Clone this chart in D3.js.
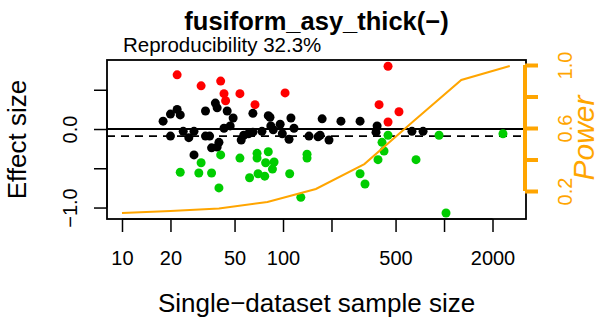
<!DOCTYPE html>
<html>
<head>
<meta charset="utf-8">
<script src="https://cdn.jsdelivr.net/npm/d3@7"></script>
<style>
  html, body { margin: 0; padding: 0; background: #fff; }
  svg { display: block; font-family: "Liberation Sans", Arial, sans-serif; }
</style>
</head>
<body>
<svg id="chart" width="600" height="319"></svg>
<script>
// ---- data ----
const titleText = "fusiform_asy_thick(\u2212)";
const subtitleText = "Reproducibility 32.3%";
const xLabel = "Single\u2212dataset sample size";
const yLabel = "Effect size";
const powerLabel = "Power";

const xTicks = [10, 20, 50, 100, 200, 500, 1000, 2000];
const xTickLabels = ["10", "20", "50", "100", "", "500", "", "2000"];
const yTicks = [-1.0, -0.5, 0.0, 0.5];
const yTickLabels = ["\u22121.0", "", "0.0", ""];
const pTicks = [0.2, 0.4, 0.6, 0.8, 1.0];
const pTickLabels = ["0.2", "", "0.6", "", "1.0"];

const meanEffect = -0.09;

// red: significant positive
const redN   = [22, 31, 41, 43, 44, 54, 67, 103, 449, 395, 525, 449];
const redES  = [0.69, 0.55, 0.61, 0.45, 0.36, 0.45, 0.31, 0.46, 0.80, 0.31, 0.22, 0.09];

// black: non-significant
const blackN  = [18, 20, 22, 23, 20, 24, 26, 28, 28, 33, 33, 35, 38, 39, 45, 49, 47, 43, 40, 36, 39,
                 55, 57, 61, 65, 65, 74, 81, 83, 84, 87, 96, 99, 109, 112, 117, 145, 165, 170, 175,
                 193, 229, 301, 384, 378, 632, 741];
const blackES = [0.10, 0.19, 0.25, 0.18, -0.09, -0.03, -0.11, -0.03, -0.33, 0.23, -0.09, -0.09, 0.33, 0.27, 0.23, 0.14, 0.04, 0.01, -0.17, -0.24, -0.23,
                 -0.14, -0.08, -0.06, -0.04, 0.20, -0.03, 0.17, 0.15, 0.04, -0.01, 0.06, -0.06, -0.13, 0.14, 0.01, -0.09, -0.10, -0.08, 0.13,
                 -0.14, 0.10, 0.10, 0.04, -0.04, -0.03, -0.03];

// green: significant negative
const greenN  = [23, 30, 36, 31, 41, 40, 54, 62, 69, 69, 70, 77, 81, 78, 88, 86, 110, 129, 141, 141,
                 449, 412, 424, 389, 670, 301, 323, 931, 2323, 1029];
const greenES = [-0.55, -0.56, -0.56, -0.43, -0.33, -0.75, -0.37, -0.62, -0.31, -0.37, -0.57, -0.60, -0.29, -0.43, -0.42, -0.51, -0.57, -0.87, -0.32, -0.37,
                 -0.08, -0.17, -0.28, -0.39, -0.39, -0.57, -0.70, -0.08, -0.06, -1.07];

// power curve
const powerN   = [10, 20, 40, 80, 160, 320, 640, 1280, 2560];
const powerVal = [0.060, 0.073, 0.089, 0.13, 0.213, 0.371, 0.64, 0.905, 0.994];

// ---- layout ----
const L = 107, R = 526, T = 60, B = 219;
const svg = d3.select("#chart");

const x = d3.scaleLog().domain([8.07, 3229]).range([L, R]);
const y = d3.scaleLinear().domain([-1.146, 0.879]).range([B, T]);
const p = d3.scaleLinear().domain([0.2, 1.0]).range([191, 65]);

svg.append("clipPath").attr("id", "clip")
  .append("rect").attr("x", L).attr("y", T).attr("width", R - L).attr("height", B - T);

const plot = svg.append("g").attr("clip-path", "url(#clip)");

// reference lines
plot.append("line").attr("x1", L).attr("x2", R).attr("y1", y(0)).attr("y2", y(0))
  .attr("stroke", "#000").attr("stroke-width", 1.8);
plot.append("line").attr("x1", L).attr("x2", R).attr("y1", y(meanEffect)).attr("y2", y(meanEffect))
  .attr("stroke", "#000").attr("stroke-width", 1.8).attr("stroke-dasharray", "8,6");

function drawPoints(ns, es, color) {
  plot.append("g").selectAll("circle").data(ns.map((n, i) => [n, es[i]])).join("circle")
    .attr("cx", d => x(d[0])).attr("cy", d => y(d[1])).attr("r", 4.5)
    .attr("fill", color);
}
drawPoints(blackN, blackES, "#000000");
drawPoints(redN, redES, "#FF0000");
drawPoints(greenN, greenES, "#00CD00");

// power line
const line = d3.line().x(d => x(d[0])).y(d => p(d[1]));
plot.append("path").datum(powerN.map((n, i) => [n, powerVal[i]]))
  .attr("d", line).attr("fill", "none").attr("stroke", "#FFA500").attr("stroke-width", 2);

// box
svg.append("rect").attr("x", L).attr("y", T).attr("width", R - L).attr("height", B - T)
  .attr("fill", "none").attr("stroke", "#000").attr("stroke-width", 1.8);

// x axis
const xAxis = d3.axisBottom(x).tickValues(xTicks)
  .tickFormat((d, i) => xTickLabels[i]).tickSize(13).tickSizeOuter(0).tickPadding(19);
const gx = svg.append("g").attr("transform", `translate(0,${B})`).call(xAxis);
gx.select(".domain").attr("d", `M${x(10)},0H${x(2000)}`).attr("stroke-width", 1.5);
gx.selectAll(".tick line").attr("stroke-width", 1.5);
gx.selectAll(".tick text").attr("font-size", 20).attr("fill", "#000")
  .attr("font-family", "Liberation Sans, Arial, sans-serif");

// y axis
const yAxis = d3.axisLeft(y).tickValues(yTicks)
  .tickFormat((d, i) => yTickLabels[i]).tickSize(13).tickSizeOuter(0);
const gy = svg.append("g").attr("transform", `translate(${L},0)`).call(yAxis);
gy.select(".domain").attr("d", `M0,${y(-1)}V${y(0.5)}`).attr("stroke-width", 1.5);
gy.selectAll(".tick line").attr("stroke-width", 1.5);
gy.selectAll(".tick text").attr("font-size", 20).attr("fill", "#000")
  .attr("font-family", "Liberation Sans, Arial, sans-serif")
  .attr("transform", "rotate(-90)").attr("x", 0).attr("y", -30).attr("dy", 0)
  .attr("text-anchor", "middle");

// power axis
const pAxis = d3.axisRight(p).tickValues(pTicks)
  .tickFormat((d, i) => pTickLabels[i]).tickSize(13).tickSizeOuter(0);
const gp = svg.append("g").attr("transform", `translate(525,0)`).call(pAxis);
gp.select(".domain").attr("stroke", "#FFA500").attr("stroke-width", 4)
  .attr("d", `M0,${p(0.2)}V${p(1.0)}`);
gp.selectAll(".tick line").attr("stroke", "#FFA500").attr("stroke-width", 4);
gp.selectAll(".tick text").attr("font-size", 20).attr("fill", "#FFA500")
  .attr("font-family", "Liberation Sans, Arial, sans-serif")
  .attr("transform", "rotate(-90)").attr("x", 0).attr("y", 47).attr("dy", 0)
  .attr("text-anchor", "middle");

// titles
svg.append("text").attr("x", (L + R) / 2).attr("y", 30).attr("text-anchor", "middle")
  .attr("font-size", 25.5).attr("font-weight", "bold").text(titleText);
svg.append("text").attr("x", 123).attr("y", 52)
  .attr("font-size", 20.5).text(subtitleText);
svg.append("text").attr("x", (L + R) / 2).attr("y", 312).attr("text-anchor", "middle")
  .attr("font-size", 26).text(xLabel);
svg.append("text").attr("transform", `translate(26,${(T + B) / 2}) rotate(-90)`)
  .attr("text-anchor", "middle").attr("font-size", 26).text(yLabel);
svg.append("text").attr("transform", `translate(594,138) rotate(-90)`)
  .attr("text-anchor", "middle").attr("font-size", 30).attr("font-style", "italic")
  .attr("fill", "#FFA500").text(powerLabel);
</script>
</body>
</html>
